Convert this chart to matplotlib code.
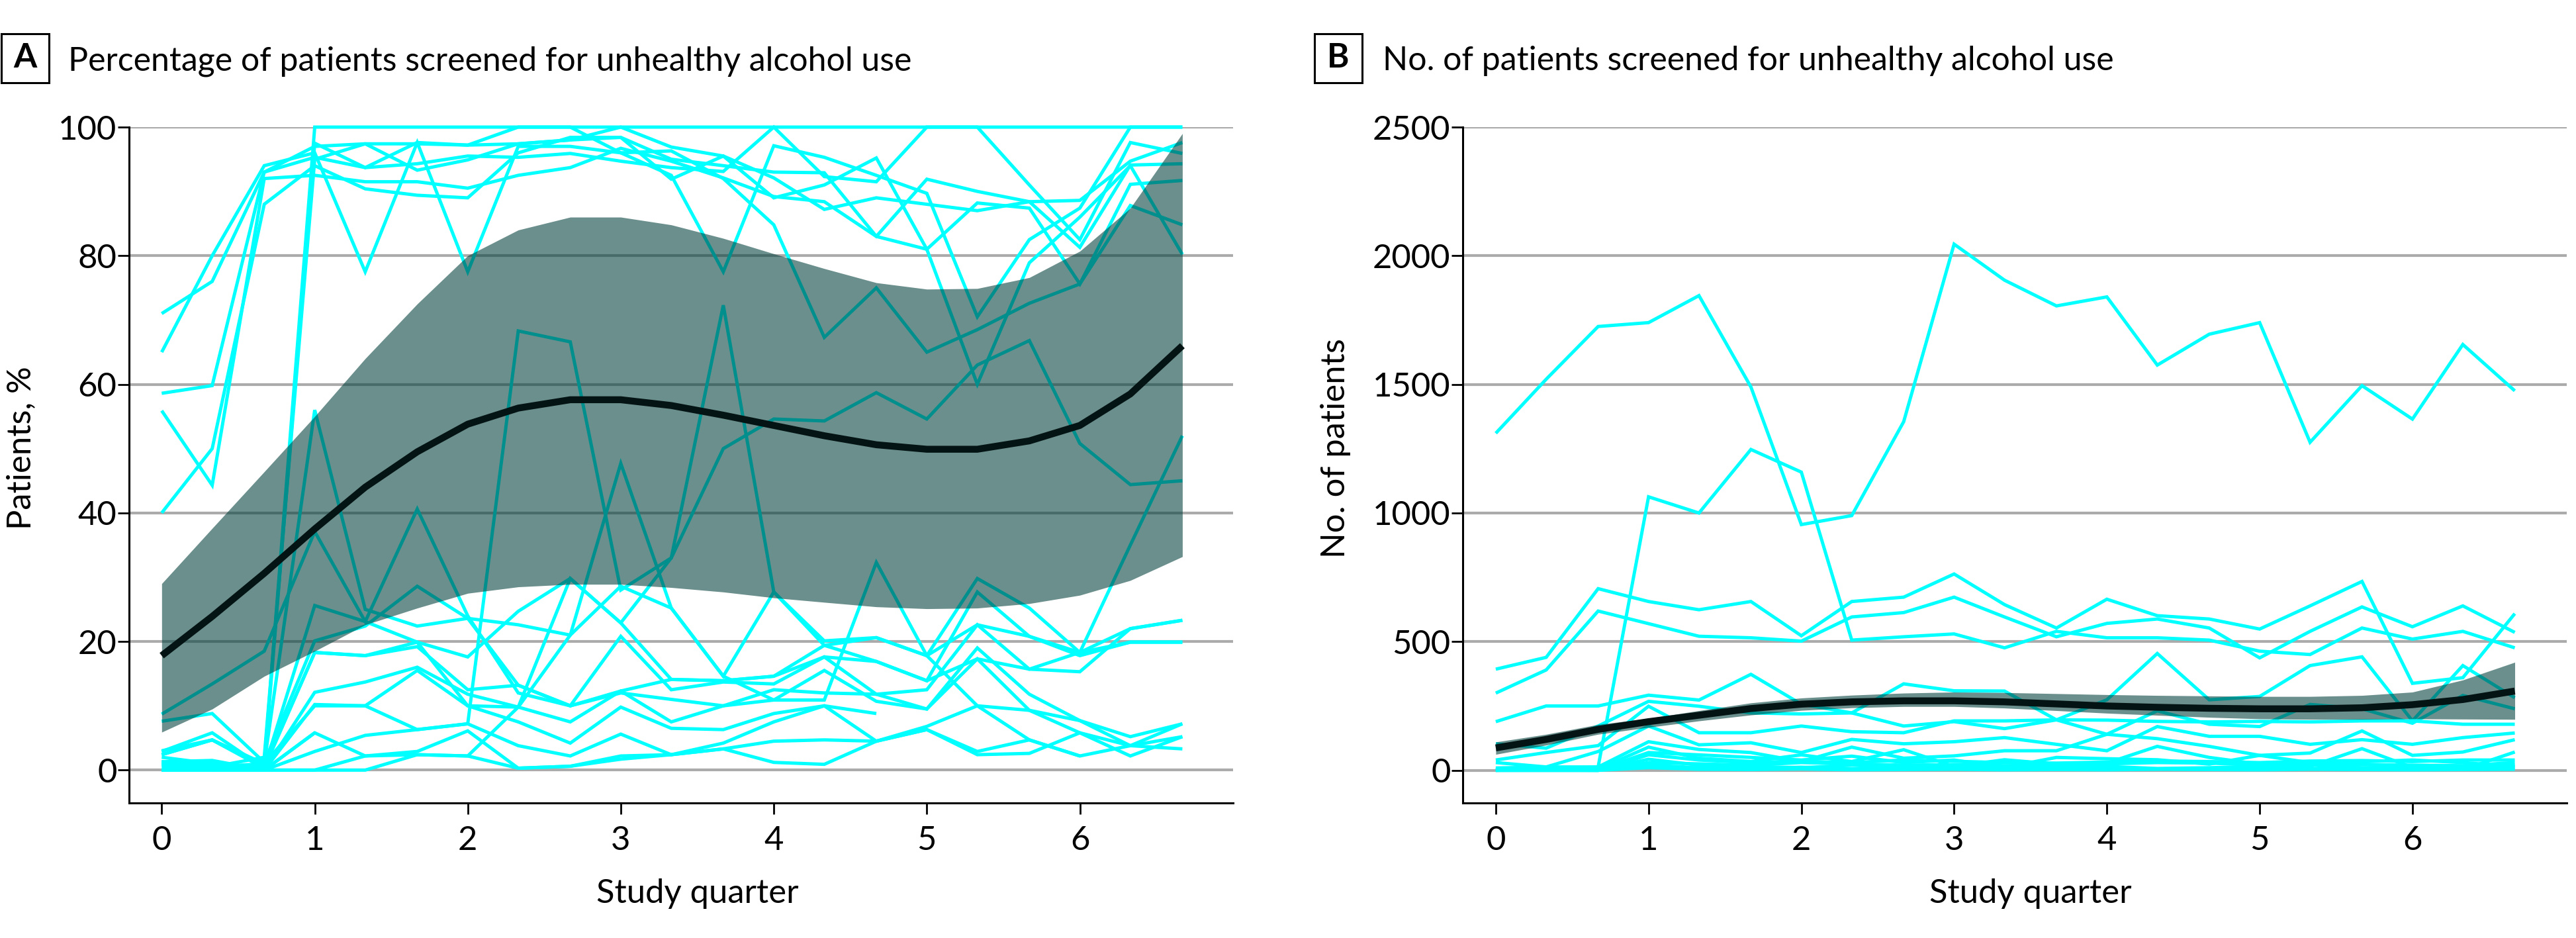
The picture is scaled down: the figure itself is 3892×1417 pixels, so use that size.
import numpy as np
import matplotlib.pyplot as plt
from matplotlib.patches import Rectangle
import matplotlib.transforms as mtransforms

plt.rcParams['font.family'] = ['Lato', 'DejaVu Sans']

# study quarter of each measurement (every month = 1/3 quarter)
quarter = [0, 0.33, 0.67, 1, 1.33, 1.67, 2, 2.33, 2.67, 3, 3.33, 3.67,
           4, 4.33, 4.67, 5, 5.33, 5.67, 6, 6.33, 6.67]

nan = np.nan

# Panel A: % screened, one list per clinic
pct_high = [
    [1, 0.5, 1, 100, 100, 100, 100, 100, 100, 100, 100, 100, 100, 100, 100, 100, 100, 100, 100, 100, 100],
    [71, 76, 93, 97, 97.4, 93.3, 94.9, 97.4, 98, 100, 96.9, 95.5, 92.1, 87.2, 89, 88, 87, 88.4, 88.6, 94.7, 97.6],
    [65, 80, 94, 96, 77.5, 97.6, 77.5, 97, 97, 96, 92.5, 77.5, 97.1, 95.3, 92.5, 89.7, 70.5, 82.5, 87.4, 100, 100],
    [58.6, 59.8, 93, 95.3, 93.7, 94.3, 95.5, 95.3, 95.9, 94.7, 93.7, 93.1, 100, 92.3, 91.5, 100, 100, 91, 82.5, 97.6, 95.9],
    [55.9, 44.3, 92, 92.5, 91.5, 91.5, 90.5, 92.5, 93.7, 96.7, 94.7, 92.1, 89.2, 88.4, 83, 91.9, 90, 88.4, 81.3, 94.1, 94.3],
    [40, 50, 88, 94, 90.4, 89.4, 89, 96, 98.4, 98.4, 91.9, 95.5, 89, 91, 95.2, 81, 88.2, 87.4, 75.6, 91.1, 91.7],
    [2, 1, 0.5, 97.5, 93.7, 97.6, 97.2, 100, 100, 96, 96.3, 92, 84.8, 67.3, 75, 65, 68.5, 72.6, 75.6, 87.8, 84.8],
    [1, 0.5, 2, 95, 97.4, 97.4, 97.2, 97.4, 98, 98.4, 95, 94, 93, 92.9, 83, 81, 60, 78.9, 86, 94, 80.2],
]
pct_mid = [
    [0, 0, 1, 56, 25, 22.4, 23.6, 13.2, 10, 12.3, 14.1, 13.9, 14.6, 17.6, 16.9, 13.9, 17.3, 15.7, 15.3, 22, 23.3],
    [8.7, 13.4, 18.5, 37.1, 23.1, 40.6, 24, 12, 10, 12, 11, 10, 12.5, 12, 11.8, 9.5, 17.3, 9.3, 7.7, 5.2, 7.2],
    [3, 4.7, 1, 10, 10, 6.3, 7.2, 68.3, 66.6, 28, 33, 50, 54.6, 54.3, 58.7, 54.6, 63, 66.8, 50.8, 44.4, 45],
    [0.5, 0.5, 0, 5.8, 2.2, 2.4, 2.2, 9.8, 29.8, 22.9, 33, 72.3, 27.7, 19.4, 20.6, 17.8, 22.6, 20.8, 18.3, 19.9, 19.9],
    [2.4, 4.7, 0.3, 18.3, 17.8, 19.9, 10, 9.8, 21, 47.7, 25.2, 14.6, 10.9, 10.9, 32.3, 17.8, 10, 4.7, 2.2, 3.8, 5.2],
]
pct_low = [
    [7.6, 8.8, 1.2, 20.1, 22.4, 28.6, 23.6, 22.6, 21, 28.6, 25.2, 14.6, 27.7, 20.1, 20.6, 17.8, 29.8, 25.2, 18.3, 22, 23.3],
    [2.9, 5.8, 0.3, 25.6, 23.1, 19.9, 17.6, 24.7, 29.8, 22.9, 14.1, 13.9, 14.6, 19.4, 16.9, 13.9, 27.7, 20.8, 17.8, 19.9, 19.9],
    [2.4, 4.7, 0.5, 18.3, 17.8, 19.2, 12.5, 13.2, 10, 20.8, 12.5, 13.7, 13.4, 17.6, 11.8, 12.5, 22.6, 15.7, 18.3, 35, 52],
    [1.3, 1.5, 0, 12.1, 13.7, 16, 11.8, 9.8, 7.5, 12.3, 7.5, 10, 10.9, 15.5, 10.7, 9.5, 19, 11.8, 7.7, 3.8, 7.2],
    [0.8, 1, 0, 10.2, 10, 15.5, 10, 7.5, 4.2, 9.8, 6.5, 6.3, 8.8, 10, 8.8, nan, nan, nan, nan, nan, nan],
    [0, 0.5, 0, 2.9, 5.4, 6.3, 7.2, 3.8, 2.2, 5.6, 2.4, 4.2, 7.5, 10, 4.5, 6.8, 10, 9.3, 5.8, 2.2, 5.2],
    [0, 0, 0, 0, 2.2, 2.9, 6.1, 0.3, 0.6, 2.2, 2.4, 3.3, 4.5, 4.7, 4.5, 6.3, 2.9, 4.7, 2.2, nan, nan],
    [0, 0, 0, 0, 0, 2.4, 2.2, 0.3, 0.6, 1.7, 2.4, 3.3, 1.2, 0.9, 4.5, 6.3, 2.4, 2.6, 5.8, 3.8, 3.3],
    [1.3, 0.8, 0, 5.8, nan, nan, nan, nan, nan, nan, nan, nan, nan, nan, nan, nan, nan, nan, nan, nan, nan],
]
pct_mean = [17.8, 23.9, 30.6, 37.5, 44, 49.5, 53.8, 56.3, 57.6, 57.6, 56.7, 55.2, 53.6, 52, 50.6, 49.9, 49.9, 51.2, 53.6, 58.5, 66]
pct_upper = [29, 37.6, 46.4, 55, 64, 72.5, 80, 84, 86, 86, 84.8, 82.7, 80.3, 78, 75.8, 74.8, 74.9, 76.6, 80.7, 87.4, 99]
pct_lower = [5.9, 9.5, 14.6, 18.5, 22.6, 25.2, 27.5, 28.5, 28.9, 28.9, 28.4, 27.7, 26.8, 26.1, 25.4, 25.1, 25.2, 25.9, 27.2, 29.5, 33.2]

# Panel B: number screened, one list per clinic
n_high = [
    [1310, 1520, 1725, 1740, 1845, 1490, 955, 990, 1355, 2045, 1905, 1805, 1840, 1575, 1695, 1740, 1275, 1495, 1365, 1655, 1475],
    [2, 5, 13, 1063, 1000, 1247, 1159, 506, 519, 530, 476, 540, 515, 515, 506, 463, 450, 553, 510, 540, 476],
    [393, 439, 706, 656, 624, 656, 523, 656, 673, 763, 644, 553, 665, 601, 588, 549, 639, 734, 338, 360, 609],
    [300, 390, 619, 570, 521, 515, 502, 596, 613, 673, 596, 519, 571, 588, 553, 437, 540, 635, 558, 639, 536],
    [189, 250, 250, 292, 273, 373, 257, 223, 336, 309, 308, 196, 274, 454, 274, 287, 407, 441, 192, 407, 282],
]
n_low = [
    [103, 86, 172, 268, 249, 223, 219, 223, 172, 189, 162, 196, 140, 231, 179, 170, 256, 239, 183, 291, 239],
    [40, 69, 96, 249, 146, 146, 172, 150, 146, 192, 192, 196, 195, 190, 188, 190, 188, 192, 192, 179, 179],
    [30, 13, 73, 172, 99, 107, 69, 120, 103, 111, 127, 101, 76, 170, 132, 132, 101, 119, 101, 127, 145],
    [9, 13, 13, 111, 81, 69, 34, 90, 47, 56, 76, 76, 140, 123, 93, 58, 67, 153, 58, 71, 119],
    [0, 4, 5, 90, 47, 34, 60, 34, 80, 15, 41, 24, 28, 93, 50, 24, 15, 84, 11, 3, 71],
    [5, 8, 2, 69, 60, 50, 40, 55, 30, 40, 11, 50, 45, 41, 24, 58, 30, 33, 40, 30, 15],
    [2, 3, 2, 43, 20, 15, 10, 20, 10, 15, 12, 10, 15, 7, 10, 15, 20, 10, 12, 10, 20],
    [0, 0, 0, 20, 10, 8, 12, 6, 5, 8, 6, 10, 6, 5, 8, 10, 6, 5, 8, 6, 10],
    [0, 0, 0, 10, 4, 3, 5, 2, 3, 4, 2, 3, 2, 4, 3, 2, 4, 3, 2, 3, 4],
    [1, 1, 0, 30, 25, 20, 30, 25, 20, 22, 18, 20, 25, 30, 28, 20, 25, 22, 20, 18, 30],
    [0, 0, 0, 60, 40, 30, 35, 30, 40, 35, 30, 28, 32, 36, 34, 30, 36, 38, 34, 40, 40],
]
n_mean = [87, 120, 159, 189, 214, 240, 257, 266, 270, 270, 266, 258, 250, 245, 241, 239, 239, 243, 255, 275, 308]
n_upper = [110, 140, 178, 202, 232, 262, 281, 292, 300, 304, 302, 298, 294, 291, 289, 287, 287, 291, 304, 351, 420]
n_lower = [62, 98, 140, 167, 192, 215, 233, 243, 248, 248, 242, 232, 222, 214, 206, 200, 198, 198, 200, 199, 198]

W, H = 3892, 1417
fig = plt.figure(figsize=(W / 100, H / 100), dpi=100)

CYAN = '#00ffff'
BAND = (0, 63 / 255, 58 / 255)
FS = 36.5


def panel(rect, xlim, ylim, yticks, lines, mean, lo, hi):
    ax = fig.add_axes(rect)
    for ys in lines:
        ax.plot(quarter, ys, color=CYAN, lw=3.6, zorder=2, clip_on=False,
                solid_joinstyle='miter', solid_capstyle='butt')
    ax.fill_between(quarter, lo, hi, color=BAND, alpha=0.58, lw=0, zorder=3)
    ax.plot(quarter, mean, color='#041414', lw=7.5, zorder=4,
            solid_capstyle='butt')
    ax.set_xlim(*xlim)
    ax.set_ylim(*ylim)
    ax.set_xticks(range(7))
    ax.set_yticks(yticks)
    ax.yaxis.grid(True, color='#ababab', lw=3)
    ax.set_axisbelow(True)
    for s in ['top', 'right']:
        ax.spines[s].set_visible(False)
    for s in ['left', 'bottom']:
        ax.spines[s].set_linewidth(2.2)
    ax.tick_params(axis='both', direction='out', length=12, width=2,
                   labelsize=FS)
    ax.tick_params(axis='y', pad=1)
    ax.tick_params(axis='x', pad=12)
    trans = mtransforms.blended_transform_factory(ax.transData, fig.transFigure)
    ax.text(3.5, 1 - 1350 / H, 'Study quarter', transform=trans,
            ha='center', va='center', fontsize=FS)
    return ax


axA = panel([194.6 / W, 1 - 1213.4 / H, 1668.1 / W, 1021.4 / H],
            (-0.215, 7.0), (-5.15, 100), [0, 20, 40, 60, 80, 100],
            pct_high + pct_mid + pct_low, pct_mean, pct_lower, pct_upper)
axB = panel([2209.6 / W, 1 - 1213.4 / H, 1668.4 / W, 1021.4 / H],
            (-0.218, 7.01), (-128, 2500), [0, 500, 1000, 1500, 2000, 2500],
            n_high + n_low, n_mean, n_lower, n_upper)

# y labels
fig.text(32 / W, 1 - 677 / H, 'Patients, %', rotation=90, ha='center',
         va='center', fontsize=FS)
fig.text(2018 / W, 1 - 677 / H, 'No. of patients', rotation=90, ha='center',
         va='center', fontsize=FS)

# panel letters and titles
for letter, bx, tx, title in [
        ('A', 2, 103, 'Percentage of patients screened for unhealthy alcohol use'),
        ('B', 1986, 2089, 'No. of patients screened for unhealthy alcohol use')]:
    fig.patches.append(Rectangle((bx / W, 1 - 125 / H), 72 / W, 74 / H,
                                 transform=fig.transFigure, fill=True,
                                 fc='white', ec='black', lw=2.2))
    fig.text((bx + 36) / W, 1 - 88 / H, letter, ha='center', va='center',
             fontsize=FS, fontweight='bold')
    fig.text(tx / W, 1 - 106 / H, title, ha='left', va='baseline',
             fontsize=36)

fig.savefig('out.png', dpi=100)
